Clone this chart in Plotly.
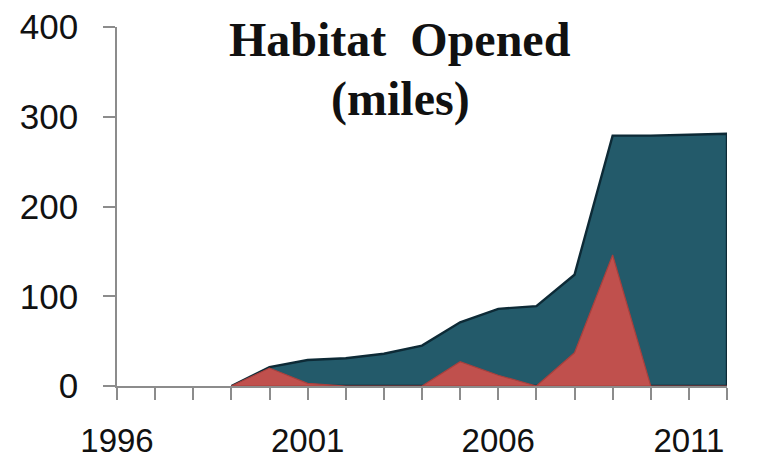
import plotly.graph_objects as go

years = list(range(1996, 2013))
total_opened = [None, None, None, 0, 21, 29, 31, 36, 45, 71, 86, 89, 124, 279, 279, 280, 281]
annual_opened = [None, None, None, 0, 20, 3, 0, 0, 0, 27, 12, 0, 37, 146, 0, 0, 0]
tick_years = [1996, 2001, 2006, 2011]
title_line1 = "Habitat  Opened"
title_line2 = "(miles)"


def area_polygon(xs, vals):
    pts = [(x, v) for x, v in zip(xs, vals) if v is not None]
    px = [p[0] for p in pts]
    py = [p[1] for p in pts]
    return px + px[::-1], py + [0] * len(py)


fig = go.Figure()

# closed polygons (value curve + baseline) so the outline runs round the whole area
tx, ty = area_polygon(years, total_opened)
fig.add_trace(go.Scatter(
    x=tx, y=ty, fill="toself", fillcolor="#235a6a", mode="lines",
    line=dict(color="#0d2a36", width=2.4), hoverinfo="skip", showlegend=False))
ax_, ay_ = area_polygon(years, annual_opened)
fig.add_trace(go.Scatter(
    x=ax_, y=ay_, fill="toself", fillcolor="#c0504d", mode="lines",
    line=dict(color="#a8403d", width=1.2), hoverinfo="skip", showlegend=False))

fig.update_layout(
    width=769, height=465,
    margin=dict(l=109, r=50, t=19, b=87),
    paper_bgcolor="white", plot_bgcolor="white",
    showlegend=False,
    font=dict(family="Liberation Sans, Arial, sans-serif", color="#111111"),
)

fig.update_xaxes(
    range=[1996, 2012], showgrid=False, zeroline=False, automargin=False,
    showline=True, linecolor="#8c8c8c", linewidth=1.5,
    tickmode="array", tickvals=years,
    ticktext=[str(y) if y in tick_years else "" for y in years],
    ticks="outside", ticklen=12, tickcolor="#8c8c8c", tickwidth=1.5,
    ticklabelstandoff=13, ticklabeloverflow="allow",
    tickfont=dict(size=33, family="Liberation Sans, Arial, sans-serif", color="#111111"),
)
fig.update_yaxes(
    range=[0, 400], showgrid=False, zeroline=False, automargin=False,
    showline=True, linecolor="#8c8c8c", linewidth=1.5,
    tickmode="array", tickvals=[0, 100, 200, 300, 400],
    ticks="outside", ticklen=12, tickcolor="#8c8c8c", tickwidth=1.5,
    ticklabelstandoff=18, ticklabeloverflow="allow",
    tickfont=dict(size=35, family="Liberation Sans, Arial, sans-serif", color="#111111"),
)

fig.add_annotation(text="<b>" + title_line1 + "</b>", xref="paper", yref="paper", x=0.464, y=0.965,
                   showarrow=False, xanchor="center", yanchor="middle",
                   font=dict(size=48, family="Liberation Serif, DejaVu Serif, serif", color="#111111"))
fig.add_annotation(text="<b>" + title_line2 + "</b>", xref="paper", yref="paper", x=0.464, y=0.8,
                   showarrow=False, xanchor="center", yanchor="middle",
                   font=dict(size=48, family="Liberation Serif, DejaVu Serif, serif", color="#111111"))

fig.write_html("out.html")
